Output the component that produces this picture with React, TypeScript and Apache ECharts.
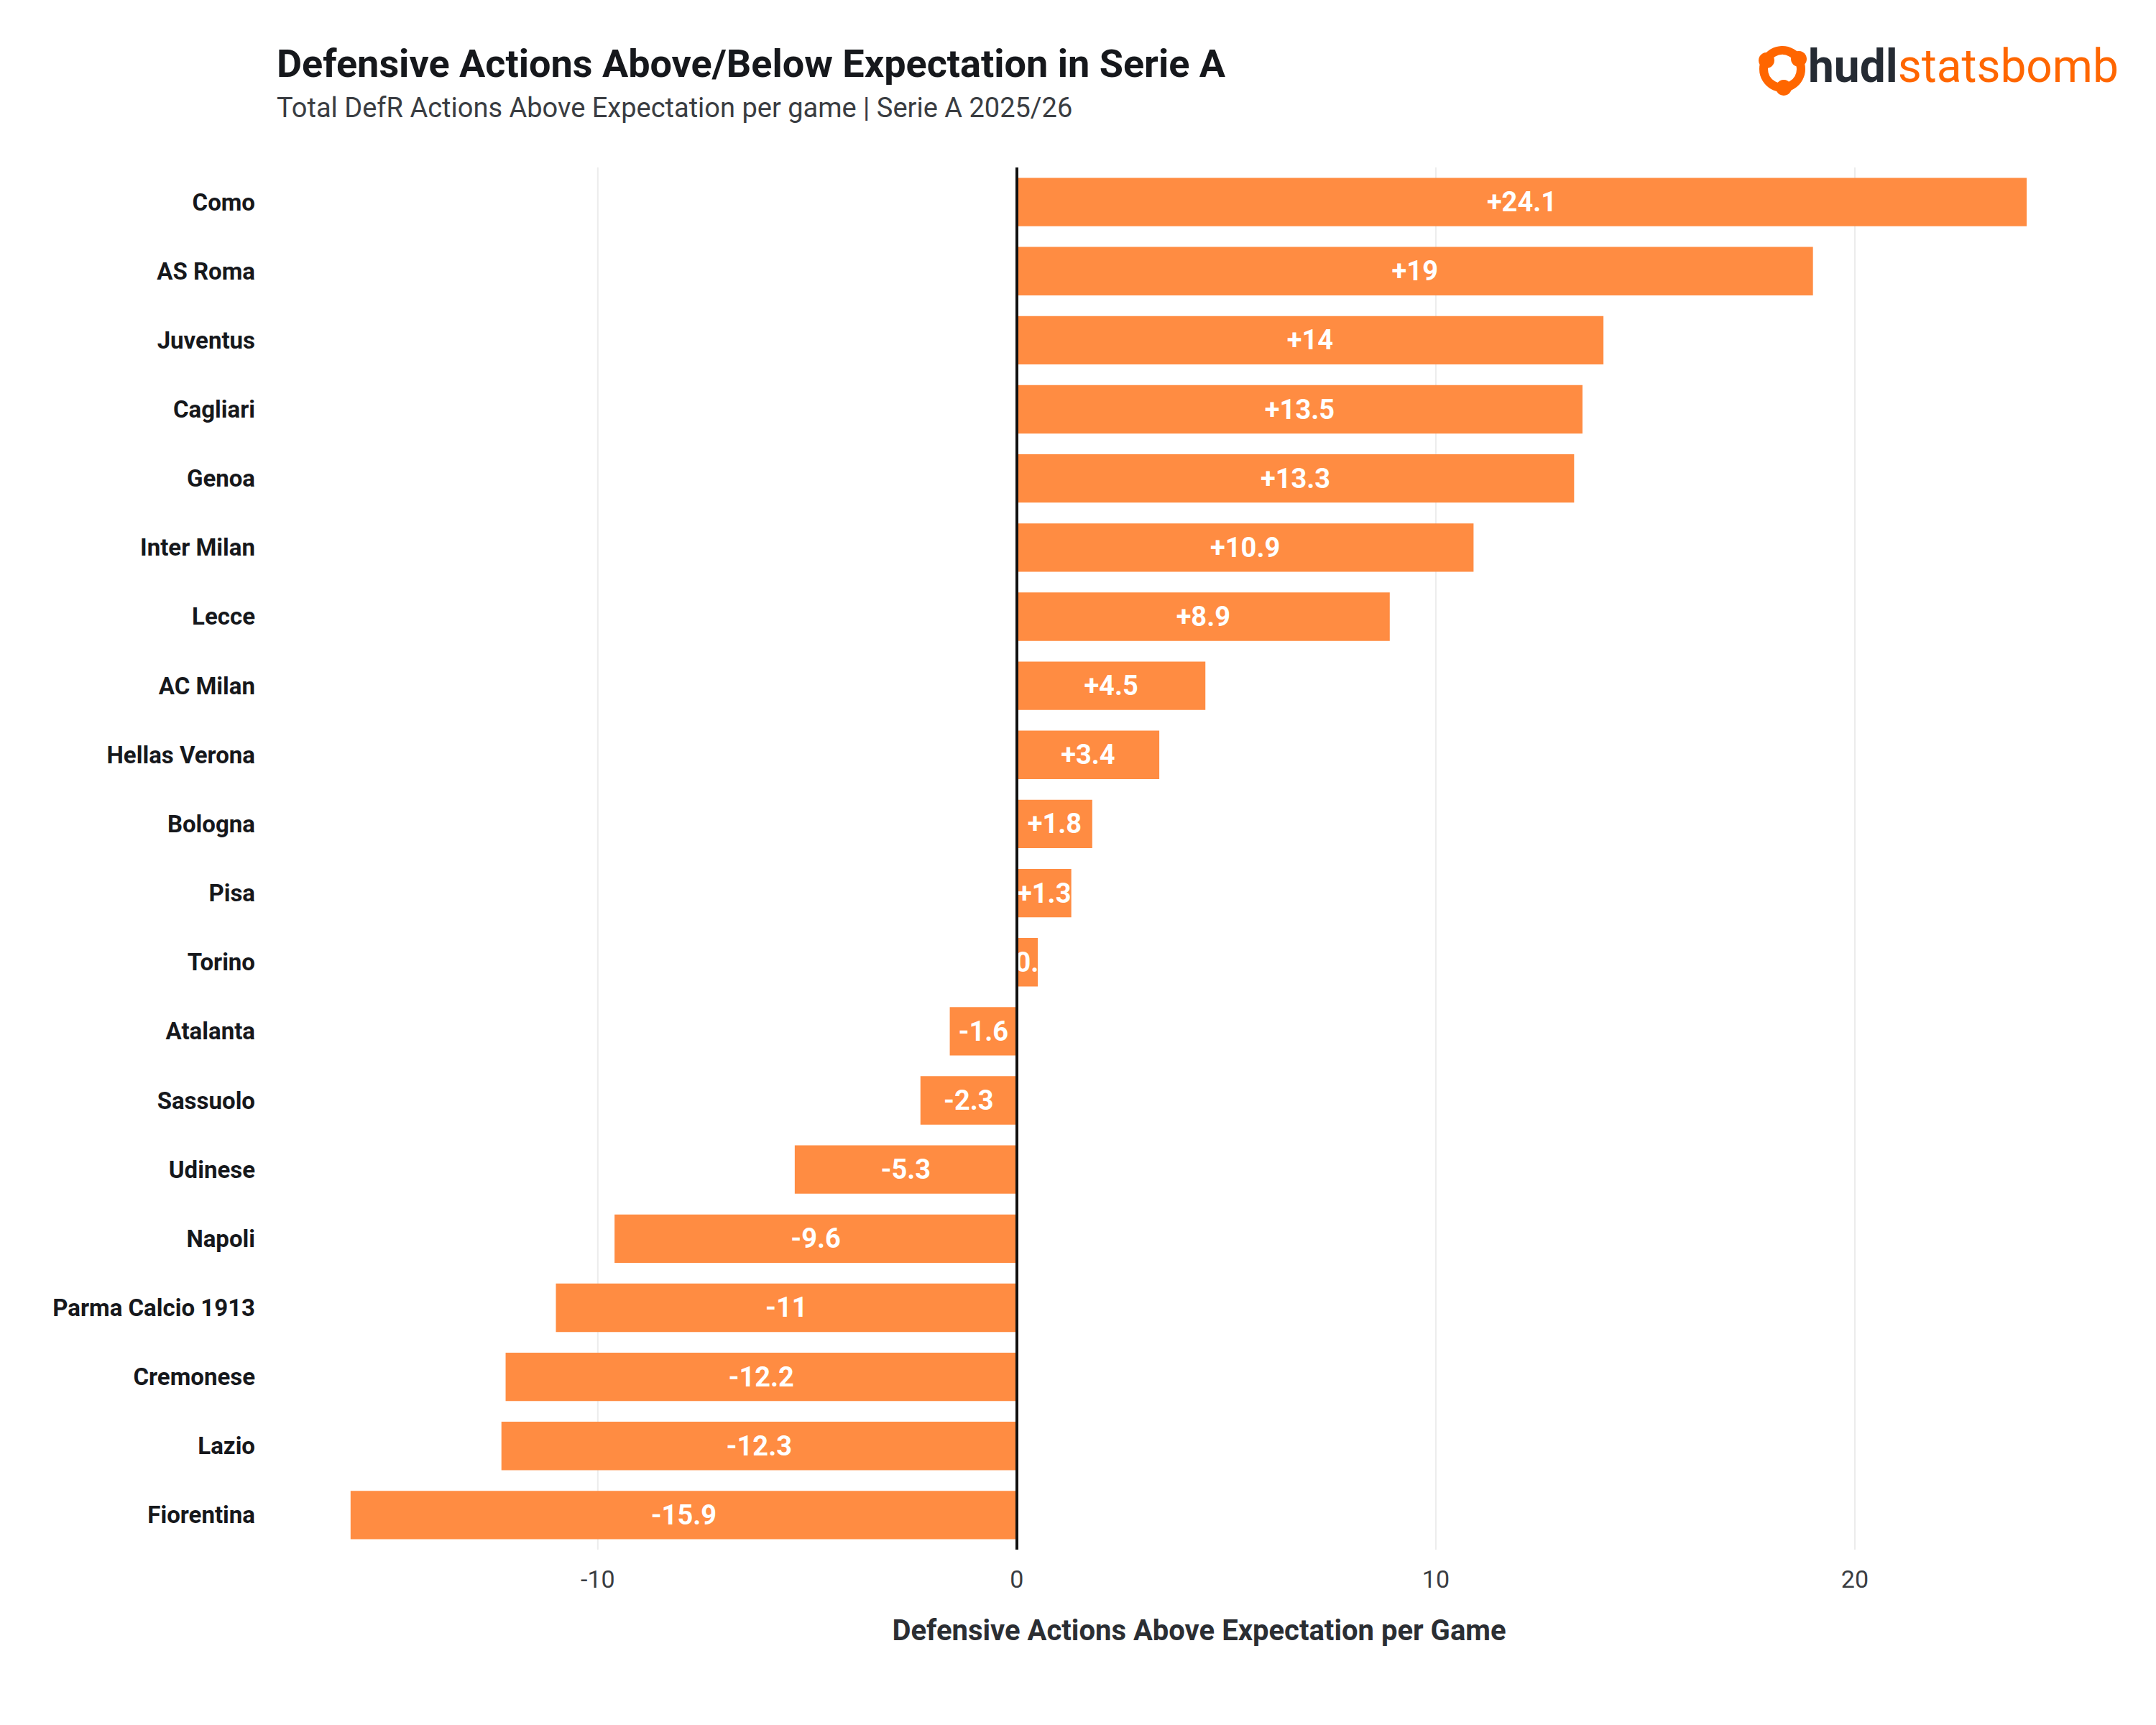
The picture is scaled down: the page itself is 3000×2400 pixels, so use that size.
import { useEffect, useRef } from 'react';
import * as echarts from 'echarts';

const teams = [
  'Como', 'AS Roma', 'Juventus', 'Cagliari', 'Genoa', 'Inter Milan', 'Lecce', 'AC Milan',
  'Hellas Verona', 'Bologna', 'Pisa', 'Torino', 'Atalanta', 'Sassuolo', 'Udinese', 'Napoli',
  'Parma Calcio 1913', 'Cremonese', 'Lazio', 'Fiorentina',
];
const values = [
  24.1, 19, 14, 13.5, 13.3, 10.9, 8.9, 4.5, 3.4, 1.8, 1.3, 0.5, -1.6, -2.3, -5.3, -9.6,
  -11, -12.2, -12.3, -15.9,
];
const xTicks = [-10, 0, 10, 20];

const FONT = 'Roboto, "Noto Sans", sans-serif';
const ORANGE = '#ff8c42';

export default function App() {
  const divRef = useRef<HTMLDivElement>(null);

  useEffect(() => {
    document.body.style.margin = '0';
    if (!divRef.current) return;
    const chart = echarts.init(divRef.current, undefined, { renderer: 'svg' });

    // gridlines as line series on a hidden 0..1 y axis, so they sit under the bars
    const gridSeries = xTicks.filter(v => v !== 0).map(v => ({
      type: 'line',
      yAxisIndex: 1,
      z: 1,
      silent: true,
      symbol: 'none',
      lineStyle: { color: '#ececec', width: 2 },
      data: [[v, 0], [v, 1]],
    }));

    chart.setOption({
      animation: false,
      backgroundColor: '#fff',
      textStyle: { fontFamily: FONT },
      title: {
        text: 'Defensive Actions Above/Below Expectation in Serie A',
        subtext: 'Total DefR Actions Above Expectation per game | Serie A 2025/26',
        left: 380,
        top: 56,
        itemGap: 16,
        textStyle: { fontSize: 54, fontWeight: 'bold', color: '#16181c', fontFamily: FONT },
        subtextStyle: { fontSize: 38, color: '#3a3d42', fontFamily: FONT },
      },
      graphic: [
        { type: 'circle', shape: { cx: 2480, cy: 96, r: 26 }, style: { fill: 'none', stroke: '#ff6600', lineWidth: 12 } },
        { type: 'circle', shape: { cx: 2458, cy: 84, r: 11 }, style: { fill: '#ff6600' } },
        { type: 'circle', shape: { cx: 2503, cy: 82, r: 11 }, style: { fill: '#ff6600' } },
        { type: 'circle', shape: { cx: 2482, cy: 122, r: 11 }, style: { fill: '#ff6600' } },
        {
          type: 'text',
          left: 2516,
          top: 60,
          style: {
            text: '{a|hudl}{b|statsbomb}',
            rich: {
              a: { fontSize: 64, fontWeight: 'bold', fill: '#252b33', fontFamily: FONT },
              b: { fontSize: 64, fill: '#ff6600', fontFamily: FONT },
            },
          },
        },
      ],
      grid: { left: 447, right: 110, top: 233, bottom: 244 },
      xAxis: {
        type: 'value',
        min: -16.6,
        max: 25.3,
        name: 'Defensive Actions Above Expectation per Game',
        nameLocation: 'middle',
        nameGap: 92,
        nameTextStyle: { fontSize: 40, fontWeight: 'bold', color: '#2b2e33', fontFamily: FONT },
        axisLine: { show: false },
        axisTick: { show: false },
        axisLabel: { fontSize: 34, color: '#3a3d42', margin: 24, customValues: xTicks },
        splitLine: { show: false },
      },
      yAxis: [
        {
          type: 'category',
          data: teams,
          inverse: true,
          axisLine: { show: false },
          axisTick: { show: false },
          axisLabel: { fontSize: 33, fontWeight: 'bold', color: '#16181c', margin: 92 },
        },
        { type: 'value', min: 0, max: 1, show: false },
      ],
      series: [
        ...gridSeries,
        {
          type: 'bar',
          z: 2,
          data: values,
          barWidth: '70%',
          itemStyle: { color: ORANGE },
          label: {
            show: true,
            position: 'inside',
            fontSize: 38,
            fontWeight: 'bold',
            color: '#fff',
            fontFamily: FONT,
            formatter: (p: any) => (p.value > 0 ? `+${p.value}` : `${p.value}`),
          },
          markLine: {
            silent: true,
            symbol: 'none',
            label: { show: false },
            lineStyle: { color: '#111', width: 4, type: 'solid' },
            data: [{ xAxis: 0 }],
          },
        },
      ],
    });

    return () => chart.dispose();
  }, []);

  return <div ref={divRef} style={{ width: 3000, height: 2400 }} />;
}
